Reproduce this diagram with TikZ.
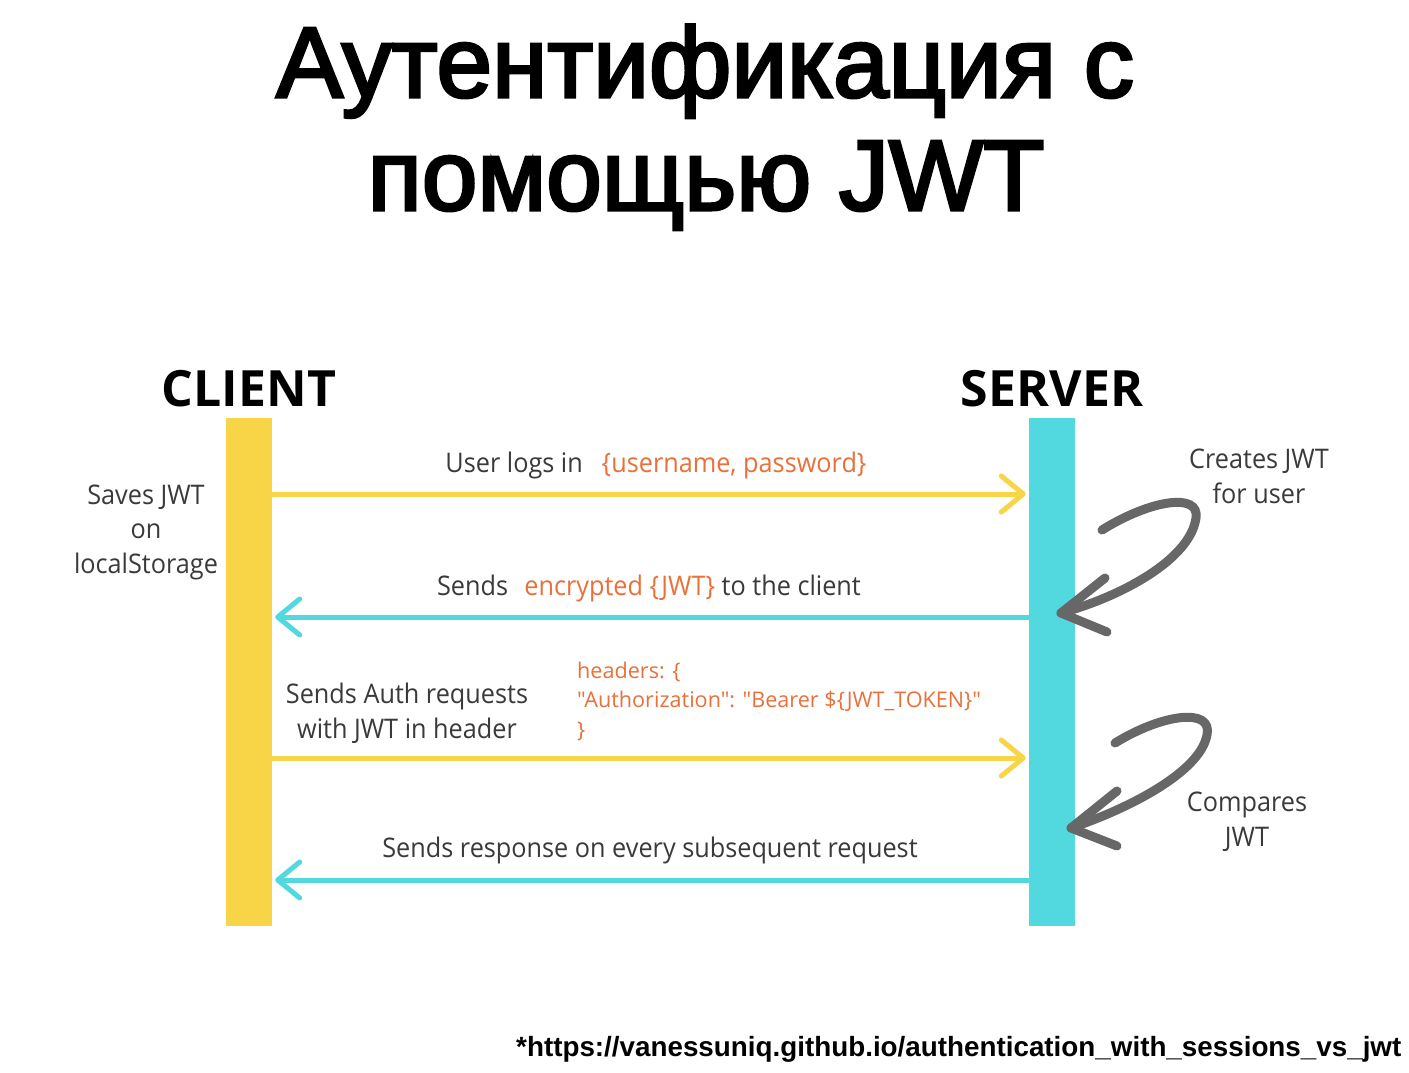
\documentclass[tikz,border=0pt]{standalone}
\usepackage{fontspec}
\setmainfont{Open Sans}[FakeStretch=0.935]
\newfontfamily\lanefont{Open Sans}
\newfontfamily\codefont{Open Sans}[Ligatures=TeXOff]
\newfontfamily\titlefont{Liberation Sans}[FakeBold=3]
\newfontfamily\notefont{Liberation Sans}
\usetikzlibrary{arrows.meta}

\definecolor{clientyellow}{HTML}{F7D547}
\definecolor{servercyan}{HTML}{52D9E0}
\definecolor{txt}{HTML}{3A3A3A}
\definecolor{hl}{HTML}{E8713A}
\definecolor{curl}{HTML}{676767}

\tikzset{
  title/.style={font=\titlefont\fontsize{100}{110}\selectfont, inner sep=0, anchor=base},
  lane/.style={font=\lanefont\bfseries\fontsize{50}{56}\selectfont, inner sep=0, anchor=base},
  bar/.style={inner sep=0, minimum width=46pt, minimum height=508pt, anchor=north},
  body/.style={font=\fontsize{27}{34.5}\selectfont, text=txt, inner sep=0, anchor=base, align=center},
  code/.style={font=\codefont\fontsize{21.6}{29.5}\selectfont, text=hl, inner sep=0, anchor=base west, align=left},
  msg/.style={line width=5pt, -{Straight Barb[length=22pt, width=36pt, line cap=round, line join=round]}},
  curlline/.style={curl, line width=9pt, line cap=round, line join=round},
}

\begin{document}
\begin{tikzpicture}[x=1pt, y=-1pt]
\useasboundingbox (0,0) rectangle (1409,1073);
\clip (0,0) rectangle (1409,1073);
\fill[white] (0,0) rectangle (1409,1073);

% heading
\node[title] (t1) at (705,97) {Аутентификация с};
\node[title] (t2) at (706,210) {помощью JWT};

% lanes
\node[lane] (clientlbl) at (249,406) {CLIENT};
\node[lane] (serverlbl) at (1052,406) {SERVER};
\node[bar, fill=clientyellow] (client) at (249,418) {};
\node[bar, fill=servercyan] (server) at (1052,418) {};

% message rows
\coordinate (r1) at (0,494);
\coordinate (r2) at (0,617);
\coordinate (r3) at (0,758);
\coordinate (r4) at (0,880);

\draw[msg, clientyellow] (client.east |- r1) -- ([xshift=-3pt]server.west |- r1);
\draw[msg, servercyan] (server.west |- r2) -- ([xshift=3pt]client.east |- r2);
\draw[msg, clientyellow] (client.east |- r3) -- ([xshift=-3pt]server.west |- r3);
\draw[msg, servercyan] (server.west |- r4) -- ([xshift=3pt]client.east |- r4);

% labels on the messages (multi-line nodes sit on their last baseline)
\node[body] (m1) at (656,472) {User logs in\hspace{0.7em}\textcolor{hl}{\{username, password\}}};
\node[body] (m2) at (649,595) {Sends\hspace{0.6em}\textcolor{hl}{encrypted \{JWT\}} to the client};
\node[body] (m3) at (407,738) {Sends Auth requests\\with JWT in header};
\node[code] (m3c) at (577,737) {headers: \{\\"Authorization": "Bearer \$\{JWT\_TOKEN\}"\\\}};
\node[body] (m4) at (650,857) {Sends response on every subsequent request};

% side notes
\node[body] (saves) at (146,573) {Saves JWT\\on\\localStorage};
\node[body] (creates) at (1259,503) {Creates JWT\\for user};
\node[body] (compares) at (1247,846) {Compares\\JWT};

% hand-drawn loop arrows at the server
\draw[curlline] (1102,530) .. controls (1150,500) and (1200,492) .. (1196,518)
  .. controls (1190,560) and (1120,597) .. (1061,613);
\draw[curlline] (1105,578) -- (1061,613) -- (1107,632);
\draw[curlline] (1115,743) .. controls (1162,714) and (1213,707) .. (1207,735)
  .. controls (1200,772) and (1130,808) .. (1071,828);
\draw[curlline] (1117,791) -- (1071,828) -- (1117,846);

% source note
\node[font=\notefont\bfseries\fontsize{27.8}{32}\selectfont, inner sep=0, anchor=base west] (src)
  at (516,1056) {*https://vanessuniq.github.io/authentication\_with\_sessions\_vs\_jwt};
\end{tikzpicture}
\end{document}
